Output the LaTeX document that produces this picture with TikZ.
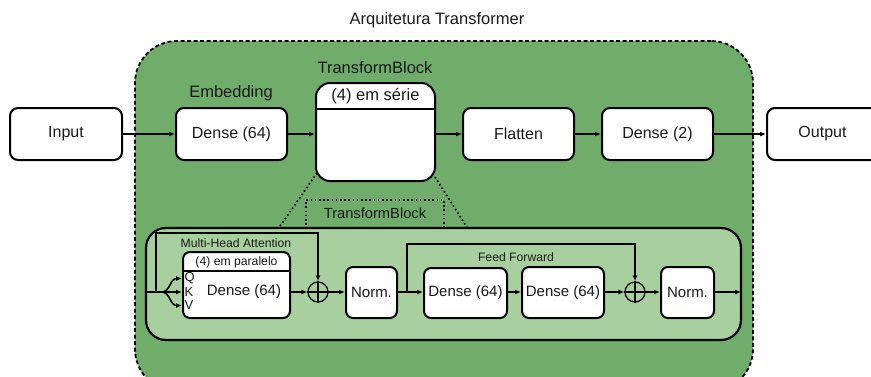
\documentclass[tikz,border=0pt]{standalone}
\usepackage{fontspec}
\setmainfont{Liberation Sans}
\usetikzlibrary{arrows.meta,calc}
\definecolor{dkgreen}{RGB}{112,173,106}
\definecolor{ltgreen}{RGB}{168,208,158}
\definecolor{txt}{RGB}{25,25,25}
\begin{document}
\begin{tikzpicture}[x=1pt,y=-1pt,
  box/.style={draw, fill=white, rounded corners=8pt, line width=2pt, inner sep=0pt, text=txt, font=\fontsize{16}{19}\selectfont},
  sbox/.style={draw, fill=white, rounded corners=7pt, line width=2pt, inner sep=0pt, text=txt, font=\fontsize{15}{18}\selectfont},
  arr/.style={line width=1.6pt, -{Latex[length=6pt,width=5pt]}},
  wire/.style={line width=1.6pt},
  lbl/.style={inner sep=0pt, text=txt, font=\fontsize{16.5}{19}\selectfont},
  mlbl/.style={inner sep=0pt, text=txt, font=\fontsize{14.7}{17}\selectfont},
  slbl/.style={inner sep=0pt, text=txt, font=\fontsize{12.2}{14}\selectfont},
  qkv/.style={inner sep=0pt, text=txt, font=\fontsize{13}{15}\selectfont},
  txtin/.style={inner sep=0pt, text=txt, font=\fontsize{15}{18}\selectfont},
  oplus/.style={draw, circle, line width=1.3pt, minimum size=20pt, inner sep=0pt},
  dotline/.style={line width=1.8pt, dash pattern=on 1.6pt off 2.6pt}
]
\useasboundingbox (0,0) rectangle (871,376);
% title
\node[lbl] (title) at (437,20) {Arquitetura Transformer};
% outer container
\node[draw, fill=dkgreen, line width=1.8pt, dash pattern=on 4pt off 2.5pt,
      rounded corners=42pt, minimum width=618pt, minimum height=350pt, inner sep=0pt]
      (outer) at (444,216) {};
% top row
\node[box, minimum width=112pt, minimum height=52pt] (in) at (66,134) {Input};
\node[box, minimum width=111pt, minimum height=52pt] (emb) at (231.5,134) {Dense (64)};
\node[lbl] (emblbl) at (231,93) {Embedding};
% dotted zoom lines
\coordinate (zl1) at (317,173);
\coordinate (zl2) at (278,229);
\coordinate (zr1) at (435,177);
\coordinate (zr2) at (468,229);
\draw[dotline] (zl1) -- (zl2);
\draw[dotline] (zr1) -- (zr2);
\coordinate (db1) at (306,229);
\coordinate (db2) at (306,200);
\coordinate (db3) at (444,200);
\coordinate (db4) at (444,229);
\draw[dotline] (db1) -- (db2) -- (db3) -- (db4);
\node[mlbl] (tblbl2) at (375,213) {TransformBlock};
% transform block
\node[box, rounded corners=14pt, minimum width=119pt, minimum height=98pt] (tb) at (375.5,132) {};
\coordinate (tbd) at (0,109);
\draw[line width=1.6pt] (tb.west |- tbd) -- (tb.east |- tbd);
\node[lbl] (tbhead) at (375.5,96) {(4) em série};
\node[lbl] (tblbl) at (375,68) {TransformBlock};
\node[box, minimum width=111pt, minimum height=52pt] (fl) at (518.5,134) {Flatten};
\node[box, minimum width=111pt, minimum height=52pt] (d2) at (657.5,134) {Dense (2)};
\node[box, minimum width=113pt, minimum height=52pt] (out) at (823.5,134) {\hspace*{-2pt}Output};
% top arrows
\draw[arr] (in.east) -- (emb.west);
\draw[arr] (emb.east) -- (emb.east -| tb.west);
\draw[arr] (fl.west -| tb.east) -- (fl.west);
\draw[arr] (fl.east) -- (d2.west);
\draw[arr] (d2.east) -- (out.west);
% inner container
\node[draw, fill=ltgreen, line width=2.2pt, rounded corners=20pt,
      minimum width=595pt, minimum height=112pt, inner sep=0pt] (inner) at (443.5,284) {};
% multi-head attention
\node[slbl] (mhalbl) at (236,243) {Multi-Head Attention};
\node[sbox, minimum width=107pt, minimum height=66pt] (mha) at (236.5,285) {};
\coordinate (mhad) at (0,271);
\draw[line width=1.6pt] (mha.west |- mhad) -- (mha.east |- mhad);
\node[slbl] (par) at (236.5,262) {(4) em paralelo};
\node[txtin] (mhatxt) at (244,292) {Dense (64)};
\node[qkv, anchor=west] (q) at (184.5,278.5) {Q};
\node[qkv, anchor=west] (k) at (184.5,292) {K};
\node[qkv, anchor=west] (v) at (184.5,305.5) {V};
% sum nodes and blocks
\node[oplus] (c1) at (318,292) {};
\draw[line width=1.3pt] (c1.north) -- (c1.south) (c1.west) -- (c1.east);
\node[sbox, minimum width=51pt, minimum height=51pt] (n1) at (371.5,292.5) {Norm.};
\node[sbox, minimum width=83pt, minimum height=50pt] (f1) at (465.5,293) {Dense (64)};
\node[sbox, minimum width=82pt, minimum height=51pt] (f2) at (563,292.5) {Dense (64)};
\node[slbl] (fflbl) at (516,257) {Feed Forward};
\node[oplus] (c2) at (635,292) {};
\draw[line width=1.3pt] (c2.north) -- (c2.south) (c2.west) -- (c2.east);
\node[sbox, minimum width=53pt, minimum height=51pt] (n2) at (687.5,292.5) {Norm.};
% inner wiring
\coordinate (s0) at (146,292);
\coordinate (r1) at (156,292);
\coordinate (r1t) at (156,233);
\coordinate (j) at (162,292);
\coordinate (r2) at (407,292);
\coordinate (r2t) at (407,244);
\coordinate (endp) at (741,292);
\draw[wire] (s0) -- (j);
\draw[arr] (r1) -- (r1t) -| (c1.north);
\draw[arr] (j) -- (k.west -| mha.west);
\draw[arr] (j) .. controls +(8,0) and +(-12,0) .. (q.west -| mha.west);
\draw[arr] (j) .. controls +(8,0) and +(-12,0) .. (v.west -| mha.west);
\draw[arr] (mha.east |- c1) -- (c1.west);
\draw[arr] (c1.east) -- (c1.east -| n1.west);
\draw[arr] (n1.east |- c1) -- (f1.west |- c1);
\draw[arr] (r2) -- (r2t) -| (c2.north);
\draw[arr] (f1.east |- c1) -- (f2.west |- c1);
\draw[arr] (f2.east |- c2) -- (c2.west);
\draw[arr] (c2.east) -- (c2.east -| n2.west);
\draw[arr] (n2.east |- c2) -- (endp);
\end{tikzpicture}
\end{document}
